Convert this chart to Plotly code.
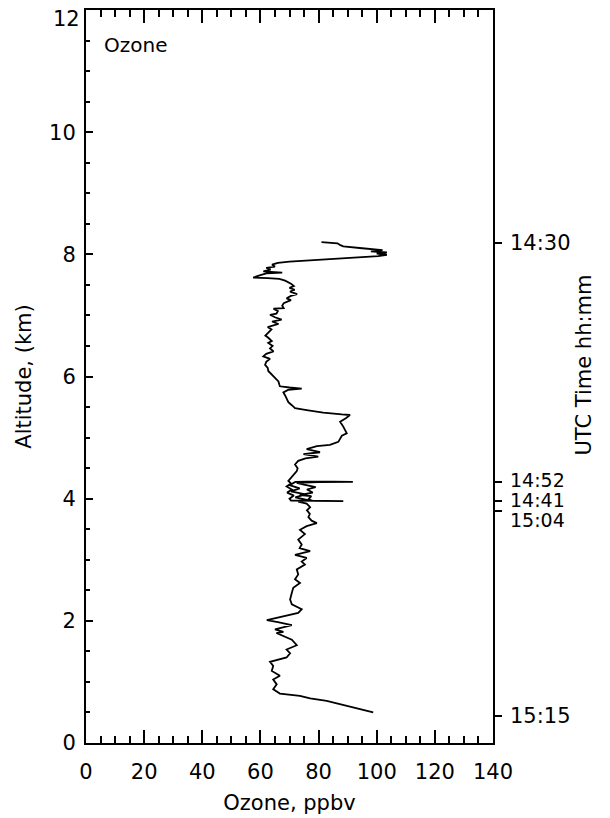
import plotly.graph_objects as go

# Ozone profile (ppbv) vs altitude (km), top of flight to bottom
ozone_ppbv = [
    81.0, 86.5, 87.5, 88.5, 95.0, 99.0, 102.0, 98.0, 103.5, 100.0, 103.5, 100.5, 86.0, 70.0,
    66.0, 64.0, 65.0, 62.0, 63.5, 61.0, 67.5, 62.0, 60.0, 57.5, 62.5, 66.5, 68.5, 70.5,
    71.5, 70.0, 71.8, 70.2, 72.6, 70.5, 69.0, 70.5, 68.0, 67.5, 68.0, 64.5, 66.0, 65.5,
    63.3, 65.0, 67.3, 64.0, 66.2, 62.5, 63.8, 62.8, 61.7, 62.8, 63.9, 62.7, 64.2, 63.3,
    64.5, 62.0, 61.0, 63.3, 62.0, 61.6, 62.5, 62.7, 63.5, 64.4, 65.5, 66.2, 66.5, 66.7,
    70.0, 74.2, 69.5, 67.9, 68.5, 69.0, 69.6, 70.8, 71.9, 75.9, 81.6, 88.0, 90.8, 89.5,
    87.4, 88.5, 89.0, 89.7, 88.0, 87.4, 86.8, 83.9, 79.4, 75.9, 80.5, 74.8, 79.9, 75.5,
    73.0, 71.9, 72.8, 72.5, 71.3, 70.2, 69.6, 70.5, 69.0, 70.8, 69.2, 71.5, 70.0, 70.5,
    75.0, 82.0, 88.5, 84.0, 78.0,
    76.5, 77.5, 73.5, 78.0, 76.0, 79.0, 75.0, 72.5,
    80.0, 88.0, 91.8, 85.0, 76.0, 72.0,
    70.0, 73.5, 70.5, 75.5, 72.0, 76.0, 73.0, 75.9, 77.1, 76.0, 77.0, 76.5, 77.6, 79.4,
    75.9, 73.6, 75.3, 73.0, 74.2, 73.5, 77.1, 75.3, 71.9, 75.9, 74.2, 75.3, 72.5, 73.0,
    71.9, 73.6, 71.3, 70.8, 70.2, 70.8, 74.2, 73.0, 67.9, 62.2, 66.0, 70.8, 65.0, 67.9,
    65.5, 68.5, 70.8, 72.5, 69.0, 70.2, 69.0, 63.3, 64.4, 63.9, 66.7, 64.4, 65.6, 64.4,
    66.7, 73.6, 77.1, 82.8, 88.5, 93.1, 98.8,
]
altitude_km = [
    8.20, 8.18, 8.15, 8.13, 8.10, 8.08, 8.07, 8.05, 8.03, 8.01, 7.99, 7.97, 7.93, 7.88,
    7.86, 7.83, 7.80, 7.78, 7.75, 7.72, 7.70, 7.69, 7.66, 7.62, 7.61, 7.60, 7.57, 7.52,
    7.48, 7.45, 7.42, 7.39, 7.35, 7.32, 7.28, 7.25, 7.20, 7.16, 7.12, 7.11, 7.07, 7.03,
    7.01, 6.97, 6.93, 6.90, 6.86, 6.81, 6.77, 6.72, 6.67, 6.63, 6.58, 6.55, 6.50, 6.46,
    6.41, 6.37, 6.33, 6.29, 6.24, 6.19, 6.14, 6.09, 6.05, 6.01, 5.96, 5.92, 5.87, 5.84,
    5.82, 5.80, 5.78, 5.74, 5.69, 5.63, 5.58, 5.53, 5.48, 5.45, 5.41, 5.38, 5.37, 5.32,
    5.26, 5.18, 5.13, 5.07, 5.03, 4.99, 4.93, 4.88, 4.86, 4.81, 4.76, 4.73, 4.69, 4.66,
    4.62, 4.56, 4.50, 4.45, 4.38, 4.33, 4.29, 4.25, 4.20, 4.15, 4.10, 4.05, 4.00, 3.97,
    3.965, 3.96, 3.96, 3.962, 3.965,
    3.99, 4.04, 4.06, 4.10, 4.15, 4.19, 4.23, 4.26,
    4.27, 4.275, 4.275, 4.28, 4.28, 4.275,
    4.22, 4.17, 4.12, 4.07, 4.02, 3.98, 3.95, 3.92, 3.86, 3.81, 3.75, 3.70, 3.64, 3.60,
    3.55, 3.49, 3.42, 3.33, 3.25, 3.19, 3.14, 3.12, 3.08, 3.03, 2.97, 2.92, 2.84, 2.76,
    2.68, 2.62, 2.54, 2.46, 2.35, 2.27, 2.19, 2.13, 2.07, 2.01, 1.98, 1.93, 1.86, 1.82,
    1.80, 1.74, 1.69, 1.60, 1.53, 1.47, 1.40, 1.33, 1.26, 1.18, 1.10, 1.04, 0.96, 0.88,
    0.81, 0.77, 0.73, 0.69, 0.62, 0.56, 0.50,
]

# Right axis: UTC time tick marks (altitude, km) and where their labels sit
utc_tick_alt_km = [8.19, 4.27, 3.96, 3.79, 0.44]
utc_label_alt_km = [8.19, 4.31, 3.98, 3.65, 0.44]
utc_labels = ["14:30", "14:52", "14:41", "15:04", "15:15"]

x_ticks = [0, 20, 40, 60, 80, 100, 120, 140]
y_ticks = [0, 2, 4, 6, 8, 10, 12]

FONT = "DejaVu Sans"
TICK_SIZE = 21
TITLE_SIZE = 21
UTC_SIZE = 19

fig = go.Figure()
fig.add_trace(go.Scatter(
    x=ozone_ppbv, y=altitude_km, mode="lines",
    line=dict(color="black", width=1.8), showlegend=False, hoverinfo="skip",
))
fig.add_trace(go.Scatter(x=[None], y=[None], yaxis="y2", showlegend=False, hoverinfo="skip"))

annotations = [dict(
    text="Ozone", x=0.04, y=0.952, xref="paper", yref="paper",
    xanchor="left", yanchor="middle", showarrow=False,
    font=dict(family=FONT, size=20, color="black"),
)]
# top y tick label sits just below the frame corner, as in the reference
annotations.append(dict(
    text=str(y_ticks[-1]), x=0, xshift=-4, y=y_ticks[-1], yshift=-9, xref="paper", yref="y",
    xanchor="right", yanchor="middle", showarrow=False,
    font=dict(family=FONT, size=TICK_SIZE, color="black"),
))
for lab, a in zip(utc_labels, utc_label_alt_km):
    annotations.append(dict(
        text=lab, x=1.0, xshift=15, y=a, xref="paper", yref="y",
        xanchor="left", yanchor="middle", showarrow=False,
        font=dict(family=FONT, size=UTC_SIZE if a not in (utc_label_alt_km[0], utc_label_alt_km[-1]) else TICK_SIZE,
                  color="black"),
    ))
annotations.append(dict(
    text="UTC Time hh:mm", x=1.0, xshift=91, y=0.515, xref="paper", yref="paper",
    xanchor="center", yanchor="middle", textangle=-90, showarrow=False,
    font=dict(family=FONT, size=TITLE_SIZE, color="black"),
))

# the page body adds an 8px offset, so the figure is 8px smaller than the window
fig.update_layout(
    width=602, height=810,
    margin=dict(l=78, r=117, t=2, b=75),
    paper_bgcolor="white", plot_bgcolor="white",
    font=dict(family=FONT, size=TICK_SIZE, color="black"),
    xaxis=dict(
        range=[0, 140], tickvals=x_ticks, ticktext=[str(v) for v in x_ticks],
        ticks="inside", ticklen=13, tickwidth=1.5, tickcolor="black",
        minor=dict(dtick=5, ticks="inside", ticklen=7, tickwidth=1.5, tickcolor="black"),
        showline=True, linecolor="black", linewidth=2, mirror="ticks",
        showgrid=False, zeroline=False, automargin=False,
        ticklabelstandoff=9, ticklabeloverflow="allow",
        title=dict(text="Ozone, ppbv", font=dict(size=TITLE_SIZE), standoff=12),
        tickfont=dict(size=TICK_SIZE),
    ),
    yaxis=dict(
        range=[0, 12], tickvals=y_ticks,
        ticktext=[str(v) if v != y_ticks[-1] else "" for v in y_ticks],
        ticks="inside", ticklen=7, tickwidth=1.5, tickcolor="black",
        minor=dict(dtick=0.5, ticks="inside", ticklen=4, tickwidth=1.5, tickcolor="black"),
        showline=True, linecolor="black", linewidth=2, mirror=False,
        showgrid=False, zeroline=False, automargin=False,
        ticklabelstandoff=4, ticklabeloverflow="allow",
        title=dict(text="Altitude, (km)", font=dict(size=TITLE_SIZE), standoff=12),
        tickfont=dict(size=TICK_SIZE),
    ),
    yaxis2=dict(
        range=[0, 12], overlaying="y", side="right",
        tickvals=utc_tick_alt_km, ticktext=["" for _ in utc_tick_alt_km],
        ticks="outside", ticklen=7, tickwidth=1.5, tickcolor="black",
        showline=True, linecolor="black", linewidth=2,
        showgrid=False, zeroline=False, automargin=False,
        tickfont=dict(size=TICK_SIZE),
    ),
    annotations=annotations,
)

fig.write_html("out.html")
